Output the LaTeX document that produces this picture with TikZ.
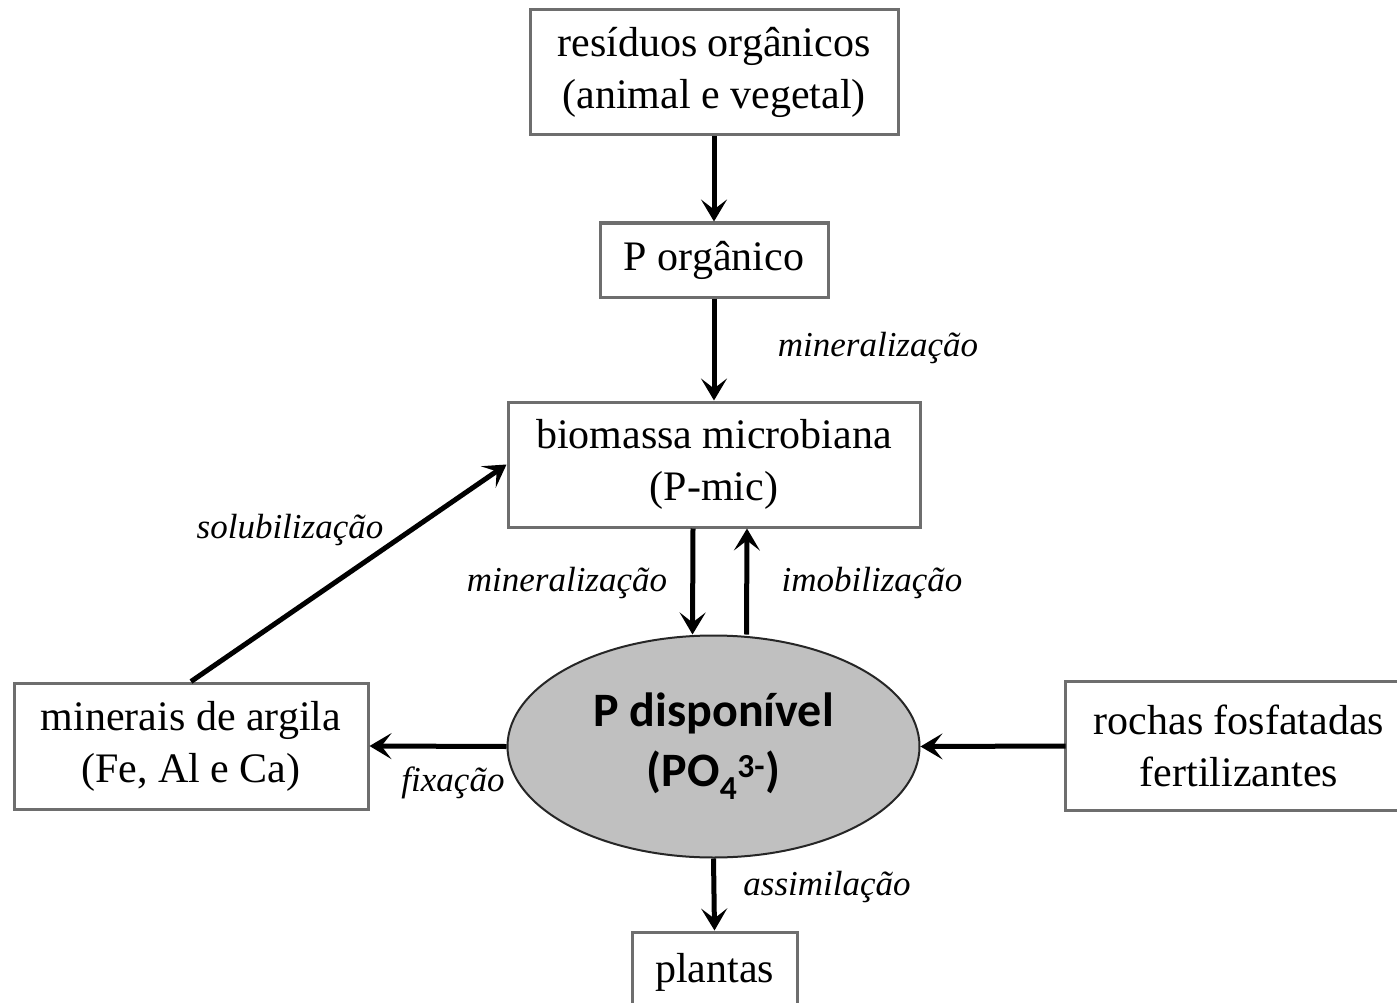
\documentclass[tikz,border=0pt]{standalone}
\usepackage{fontspec}
\setmainfont{Liberation Serif}
\newfontfamily\ellfont{Carlito}
\usetikzlibrary{arrows.meta,shapes.geometric}
\definecolor{ellgray}{RGB}{192,192,192}
\definecolor{boxline}{RGB}{110,110,110}
\begin{document}
\begin{tikzpicture}[x=1pt,y=-1pt,
 box/.style={draw=boxline, line width=3pt, fill=white, inner sep=0pt, align=center, font=\fontsize{42}{52}\selectfont},
 boxframe/.style={draw=boxline, line width=3pt},
 arr/.style={line width=5pt, -{Stealth[length=22pt,width=26pt,inset=10pt]}},
 lab/.style={font=\fontsize{35}{40}\selectfont\itshape, inner sep=0pt},
 ellnode/.style={ellipse, draw=black!85, line width=2pt, fill=ellgray, inner sep=0pt, align=center, font=\ellfont\bfseries\fontsize{48}{62}\selectfont}
]
\useasboundingbox (0,0) rectangle (1397,1003);
\clip (0,0) rectangle (1397,1003);
\fill[white] (0,0) rectangle (1397,1003);

\node[box, minimum width=368pt, minimum height=125pt] (res) at (714,72) {resíduos orgânicos\\(animal e vegetal)};
\node[box, minimum width=228pt, minimum height=74pt] (porg) at (714,260) {P orgânico};
\node[box, minimum width=412pt, minimum height=125pt] (bio) at (714,464.5) {biomassa microbiana\\(P-mic)};
\node[ellnode, minimum width=412pt, minimum height=222pt] (ell) at (713.5,746.5) {\raisebox{-4pt}{P disponível}\\\raisebox{-2pt}{(PO\textsubscript{4}\textsuperscript{3-})}};
\node[box, minimum width=354pt, minimum height=126pt] (min) at (191,746) {minerais de argila\\(Fe, Al e Ca)};
\node[box, draw=none, minimum width=344pt, minimum height=126pt] (roc) at (1239,746) {rochas fosfatadas\\fertilizantes};
\draw[boxframe] ([xshift=100pt]roc.north east) -| (roc.south west) -- ([xshift=100pt]roc.south east);
\node[box, minimum width=165pt, minimum height=80pt] (pla) at (714.5,972) {plantas};

\draw[arr] (res) -- (porg);
\draw[arr] (porg) -- (bio);
\draw[arr] ([xshift=-21pt]bio.south) -- ([xshift=-21pt]ell.north);
\draw[arr] ([xshift=33pt]ell.north) -- ([xshift=33pt]bio.south);
\draw[arr] (min.north) -- (bio.west);
\draw[arr] (ell.west) -- (min.east);
\draw[arr] (roc.west) -- (ell.east);
\draw[arr] (ell.south) -- (pla.north);

\node[lab] (l1) at (878,348) {mineralização};
\node[lab] (l2) at (567,583) {mineralização};
\node[lab] (l3) at (872,583) {imobilização};
\node[lab] (l4) at (290,530) {solubilização};
\node[lab] (l5) at (453,783) {fixação};
\node[lab] (l6) at (827,887) {assimilação};
\end{tikzpicture}
\end{document}
